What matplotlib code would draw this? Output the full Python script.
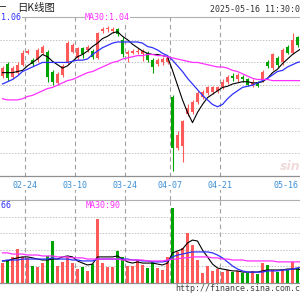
import numpy as np
import pandas as pd
import matplotlib
matplotlib.use('Agg')
import matplotlib.pyplot as plt
from matplotlib.transforms import blended_transform_factory

plt.rcParams['font.family'] = ['Noto Sans CJK SC', 'DejaVu Sans']

# trading days shown (2025-02-17 .. 2025-05-16, CN holidays removed)
days = pd.bdate_range('2025-02-17', '2025-05-16')
days = days[~days.isin(pd.to_datetime(['2025-04-04', '2025-05-01', '2025-05-02', '2025-05-05']))]
dates = days.strftime('%m-%d').tolist()

opens = [1.048, 1.059, 1.047, 1.051, 1.058, 1.068, 1.062, 1.062, 1.068, 1.069,
         1.052, 1.042, 1.049, 1.060, 1.069, 1.064, 1.073, 1.071, 1.070, 1.064,
         1.088, 1.089, 1.088, 1.089, 1.080, 1.067, 1.068, 1.069, 1.067, 1.068,
         1.062, 1.059, 1.060, 1.060, 1.030, 0.985, 0.986, 1.015, 1.016, 1.025,
         1.030, 1.033, 1.034, 1.035, 1.038, 1.043, 1.048, 1.045, 1.047, 1.045,
         1.040, 1.043, 1.045, 1.060, 1.055, 1.064, 1.060, 1.074, 1.068, 1.082,
         1.075]
closes = [1.055, 1.046, 1.055, 1.058, 1.068, 1.070, 1.059, 1.071, 1.074, 1.047,
          1.043, 1.050, 1.057, 1.077, 1.075, 1.073, 1.067, 1.074, 1.065, 1.086,
          1.089, 1.090, 1.089, 1.085, 1.067, 1.069, 1.070, 1.070, 1.070, 1.062,
          1.056, 1.062, 1.063, 1.064, 0.985, 0.996, 1.008, 1.020, 1.025, 1.033,
          1.034, 1.038, 1.038, 1.038, 1.043, 1.047, 1.046, 1.049, 1.045, 1.040,
          1.043, 1.039, 1.052, 1.057, 1.067, 1.058, 1.071, 1.068, 1.080, 1.075,
          1.082]
highs = [1.057, 1.060, 1.057, 1.060, 1.071, 1.072, 1.064, 1.073, 1.075, 1.071,
         1.053, 1.052, 1.059, 1.079, 1.077, 1.074, 1.074, 1.075, 1.072, 1.087,
         1.091, 1.092, 1.091, 1.090, 1.082, 1.071, 1.072, 1.073, 1.072, 1.070,
         1.064, 1.064, 1.065, 1.066, 1.031, 1.000, 1.009, 1.023, 1.027, 1.035,
         1.036, 1.039, 1.039, 1.039, 1.045, 1.049, 1.051, 1.051, 1.049, 1.046,
         1.045, 1.044, 1.053, 1.062, 1.068, 1.066, 1.073, 1.075, 1.086, 1.083,
         1.083]
lows = [1.046, 1.044, 1.045, 1.049, 1.057, 1.067, 1.057, 1.060, 1.067, 1.043,
        1.040, 1.040, 1.047, 1.059, 1.068, 1.062, 1.064, 1.069, 1.063, 1.063,
        1.086, 1.087, 1.086, 1.083, 1.065, 1.060, 1.067, 1.067, 1.061, 1.060,
        1.051, 1.057, 1.058, 1.059, 0.964, 0.983, 0.972, 1.013, 1.015, 1.023,
        1.028, 1.031, 1.032, 1.033, 1.037, 1.041, 1.044, 1.043, 1.043, 1.039,
        1.038, 1.038, 1.043, 1.055, 1.053, 1.056, 1.058, 1.067, 1.067, 1.074,
        1.074]

ma5 = [1.051, 1.051, 1.051, 1.052, 1.053, 1.057, 1.060, 1.063, 1.067, 1.065,
       1.061, 1.058, 1.055, 1.057, 1.061, 1.065, 1.067, 1.070, 1.074, 1.077,
       1.081, 1.083, 1.086, 1.087, 1.083, 1.080, 1.076, 1.073, 1.070, 1.068,
       1.067, 1.067, 1.066, 1.065, 1.053, 1.040, 1.027, 1.016, 1.007, 1.016,
       1.023, 1.029, 1.032, 1.035, 1.038, 1.039, 1.041, 1.042, 1.043, 1.043,
       1.042, 1.042, 1.043, 1.046, 1.051, 1.054, 1.059, 1.063, 1.067, 1.070,
       1.073]
ma10 = [1.041, 1.043, 1.045, 1.048, 1.052, 1.054, 1.056, 1.058, 1.060, 1.060,
        1.060, 1.060, 1.060, 1.060, 1.061, 1.062, 1.062, 1.063, 1.067, 1.070,
        1.073, 1.075, 1.077, 1.078, 1.078, 1.078, 1.078, 1.078, 1.077, 1.074,
        1.073, 1.071, 1.068, 1.066, 1.062, 1.057, 1.052, 1.046, 1.041, 1.036,
        1.031, 1.027, 1.023, 1.021, 1.023, 1.028, 1.032, 1.035, 1.038, 1.039,
        1.040, 1.042, 1.044, 1.046, 1.049, 1.052, 1.053, 1.056, 1.058, 1.060,
        1.061]
ma30 = [1.028, 1.027, 1.027, 1.027, 1.028, 1.030, 1.031, 1.033, 1.035, 1.037,
        1.038, 1.040, 1.042, 1.044, 1.045, 1.047, 1.049, 1.051, 1.052, 1.054,
        1.056, 1.058, 1.060, 1.061, 1.063, 1.064, 1.065, 1.066, 1.066, 1.067,
        1.067, 1.066, 1.066, 1.065, 1.064, 1.063, 1.062, 1.061, 1.060, 1.060,
        1.059, 1.058, 1.057, 1.056, 1.056, 1.055, 1.053, 1.052, 1.050, 1.048,
        1.046, 1.045, 1.045, 1.045, 1.044, 1.044, 1.044, 1.044, 1.044, 1.044,
        1.044]

vol = [84, 97, 110, 143, 110, 105, 72, 67, 84, 114,
       177, 72, 89, 110, 84, 59, 67, 51, 80, 270,
       84, 67, 67, 135, 110, 72, 72, 97, 76, 63,
       89, 63, 55, 110, 316, 131, 148, 211, 160, 97,
       42, 72, 51, 59, 46, 55, 46, 51, 42, 42,
       51, 38, 84, 76, 55, 46, 59, 55, 89, 63,
       40]
vma5 = [93, 93, 101, 106, 110, 110, 106, 101, 97, 97,
        101, 101, 110, 114, 110, 93, 84, 76, 80, 110,
        110, 110, 110, 114, 101, 89, 84, 89, 84, 84,
        84, 80, 76, 84, 127, 135, 143, 169, 181, 177,
        139, 110, 80, 63, 59, 55, 51, 51, 46, 46,
        46, 46, 51, 55, 55, 55, 55, 59, 59, 59,
        55]
vma10 = [93, 97, 97, 97, 101, 101, 101, 101, 101, 101,
         106, 101, 101, 101, 97, 97, 93, 93, 93, 101,
         101, 101, 101, 101, 101, 101, 97, 97, 93, 93,
         89, 89, 89, 93, 110, 118, 122, 127, 131, 131,
         131, 131, 127, 118, 106, 89, 72, 59, 51, 46,
         46, 46, 46, 51, 51, 51, 55, 55, 59, 64,
         66]
vma30 = [127, 127, 122, 122, 122, 118, 118, 118, 114, 114,
         114, 110, 110, 110, 106, 106, 106, 101, 101, 101,
         101, 101, 101, 101, 97, 97, 97, 97, 97, 93,
         93, 93, 93, 97, 101, 101, 106, 106, 110, 110,
         110, 110, 106, 106, 101, 101, 97, 97, 97, 93,
         93, 93, 93, 93, 93, 89, 89, 89, 89, 89,
         90]

label_dates = ['02-24', '03-10', '03-24', '04-07', '04-21']

UP = '#ff5a5a'
DOWN = '#00a400'
W, H = 300, 300


def fpos(x, y):
    return x / W, 1 - y / H


fig = plt.figure(figsize=(3, 3), dpi=100, facecolor='white')
ax = fig.add_axes([0, 1 - 176 / H, 1, 159 / H])
axv = fig.add_axes([0, 1 - 283 / H, 1, 83 / H])

x = np.arange(len(dates))
o = np.array(opens)
c = np.array(closes)
up = c >= o
cols = np.where(up, UP, DOWN)

# candles
ax.vlines(x, lows, highs, colors=cols, lw=0.8, zorder=3)
body = np.maximum(np.abs(c - o), 0.0009)
ax.bar(x, body, bottom=np.minimum(o, c), width=0.7, color=cols, zorder=4, linewidth=0)
ax.plot(x, ma5, color='black', lw=0.8, zorder=5)
ax.plot(x, ma10, color='#3030ff', lw=0.9, zorder=5)
ax.plot(x, ma30, color='#ff30ff', lw=0.9, zorder=5)

# volume
axv.bar(x, vol, width=0.72, color=cols, linewidth=0, zorder=3)
axv.plot(x, vma5, color='black', lw=0.8, zorder=5)
axv.plot(x, vma10, color='#3030ff', lw=0.9, zorder=5)
axv.plot(x, vma30, color='#ff30ff', lw=0.9, zorder=5)

ax.set_ylim(0.96, 1.10)
axv.set_ylim(0, 350)
for a in (ax, axv):
    a.set_xlim(-0.5, 59.5)
    a.set_xticks([])
    a.tick_params(length=0, labelleft=False)
    a.spines['left'].set_visible(False)
    a.spines['right'].set_visible(False)
    a.spines['top'].set_color('#b0b0b0')
    a.spines['bottom'].set_color('#909090')
    a.spines['top'].set_linewidth(0.8)
    a.spines['bottom'].set_linewidth(0.9)
    a.grid(axis='y', color='#c4c4c4', linestyle=(0, (1.5, 1.5)), lw=0.7, zorder=0)

ax.set_yticks(np.arange(0.98, 1.09, 0.02))
axv.set_yticks([70, 140, 210, 280])

# date grid lines + labels
trans = blended_transform_factory(ax.transData, ax.transAxes)
for d in label_dates:
    gx = dates.index(d) - 0.5
    ax.axvline(gx, ymin=-24 / 159, ymax=1, color='#a0a0a0', lw=0.8,
               linestyle=(0, (4, 3)), clip_on=False, zorder=1)
    axv.axvline(gx, color='#a0a0a0', lw=0.8, linestyle=(0, (4, 3)), zorder=1)
    ax.text(gx, -9 / 159, d, transform=trans, ha='center', va='center',
            family='DejaVu Sans Mono', fontsize=6, color='#3a8fd8',
            bbox=dict(facecolor='white', edgecolor='none', pad=0.5), zorder=6)
ax.text(len(dates) - 1.9, -9 / 159, dates[-1], transform=trans, ha='right', va='center',
        family='DejaVu Sans Mono', fontsize=6, color='#3a8fd8')

mono = dict(family='DejaVu Sans Mono', fontsize=6, va='center')
fig.text(*fpos(-4, 8), '一', fontsize=7.5, color='#222222', va='center', ha='left')
fig.text(*fpos(17, 8), '日K线图', fontsize=7.5, color='#222222', va='center', ha='left')
fig.text(*fpos(210, 10), '2025-05-16 11:30:00', color='#333333', ha='left', **mono)
fig.text(*fpos(22, 17), 'MA10:%.2f' % ma10[-1], color='#3030ff', ha='right',
         bbox=dict(facecolor='white', edgecolor='none', pad=0.3), **mono)
fig.text(*fpos(85, 17), 'MA30:%.2f' % ma30[-1], color='#ff30ff', ha='left',
         bbox=dict(facecolor='white', edgecolor='none', pad=0.3), **mono)
fig.text(*fpos(12, 205), 'MA10:%d' % vma10[-1], color='#3030ff', ha='right', **mono)
fig.text(*fpos(86, 205), 'MA30:%d' % vma30[-1], color='#ff30ff', ha='left', **mono)
fig.text(*fpos(175, 288.5), 'http://finance.sina.com.cn', color='#444444', ha='left', **mono)
fig.text(*fpos(280, 166), 'sina', fontsize=9, style='italic', weight='bold',
         color='#f0dada', ha='left', va='center', family='DejaVu Sans', zorder=0)

fig.savefig('out.png', dpi=100, facecolor='white')
